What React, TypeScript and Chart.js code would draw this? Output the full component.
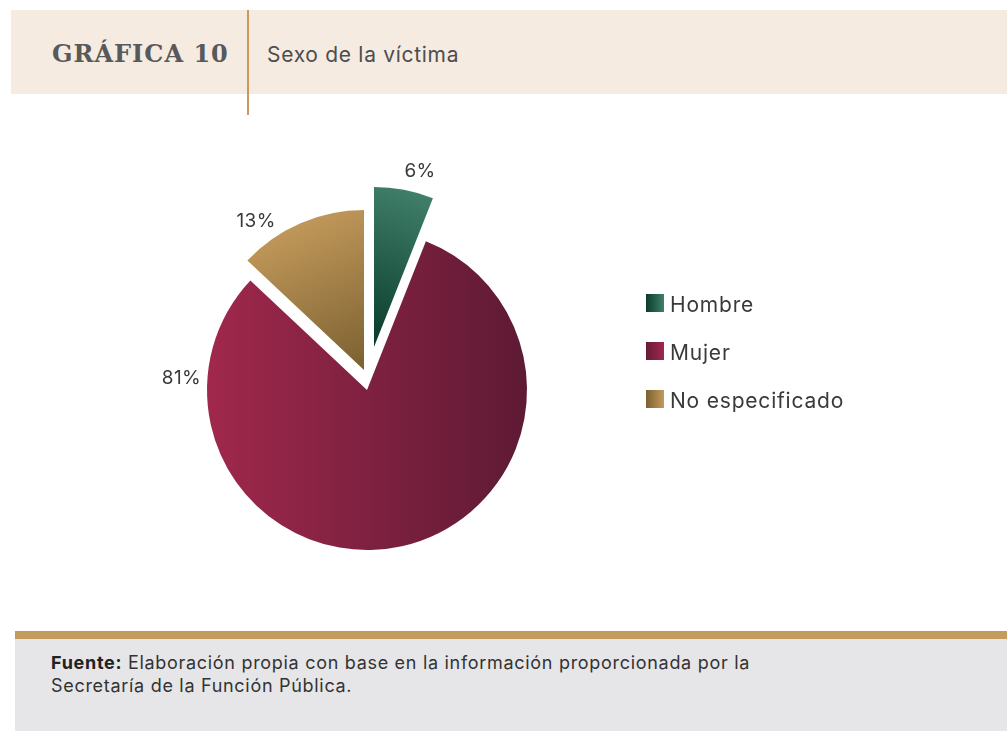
import React, { useEffect, useRef } from "react";
import { Chart, registerables } from "chart.js";

Chart.register(...registerables);

// ---- data ----
const categories = ["Hombre", "Mujer", "No especificado"];
const shares = [6, 81, 13];
const valueLabels = ["6%", "81%", "13%"];

const TITLE = "GRÁFICA 10";
const SUBTITLE = "Sexo de la víctima";
const SOURCE_BOLD = "Fuente:";
const SOURCE_LINE1 = " Elaboración propia con base en la información proporcionada por la";
const SOURCE_LINE2 = "Secretaría de la Función Pública.";

// ---- style ----
const FONT = "Inter, 'Open Sans', sans-serif";
const TEXT_COLOR = "#3a3a3a";
const RADIUS = 160;
// explode translation of each slice (pixels, dx / dy)
const explodeShift: [number, number][] = [
  [7, -43],
  [0, 0],
  [-3, -20],
];
// label anchor: [angle clockwise from top in degrees, distance from centre]
const labelAnchors: [number, number][] = [
  [13.6, 225],
  [-86.3, 186],
  [-33.3, 202],
];

function sliceFill(chart: Chart, i: number, forLegend = false, lx = 0, ly = 0) {
  const c = chart.ctx;
  const a = chart.chartArea;
  if (!a) return "#888";
  const cx = (a.left + a.right) / 2;
  const cy = (a.top + a.bottom) / 2;
  let g: CanvasGradient;
  if (forLegend) {
    g = c.createLinearGradient(lx, ly, lx + 18, ly);
    if (i === 0) { g.addColorStop(0, "#0a3a2c"); g.addColorStop(1, "#41806a"); }
    else if (i === 1) { g.addColorStop(0, "#661a38"); g.addColorStop(1, "#a0284c"); }
    else { g.addColorStop(0, "#7a6030"); g.addColorStop(1, "#c49a5c"); }
    return g;
  }
  if (i === 0) {
    g = c.createLinearGradient(cx + 64, cy - 195, cx + 7, cy - 43);
    g.addColorStop(0, "#41806a");
    g.addColorStop(1, "#083a2b");
  } else if (i === 1) {
    g = c.createLinearGradient(cx - RADIUS, cy, cx + RADIUS, cy);
    g.addColorStop(0, "#a0284c");
    g.addColorStop(1, "#5e1a34");
  } else {
    g = c.createLinearGradient(cx - 70, cy - 175, cx, cy - 20);
    g.addColorStop(0, "#c49a5c");
    g.addColorStop(1, "#7a6030");
  }
  return g;
}

const explodePlugin = {
  id: "explodeSlices",
  afterDatasetUpdate(chart: Chart, args: any) {
    const meta = chart.getDatasetMeta(args.index);
    meta.data.forEach((arc: any, i: number) => {
      const [dx, dy] = explodeShift[i] || [0, 0];
      arc.x += dx;
      arc.y += dy;
    });
  },
};

const labelPlugin = {
  id: "sliceLabels",
  afterDatasetsDraw(chart: Chart) {
    const a = chart.chartArea;
    const cx = (a.left + a.right) / 2;
    const cy = (a.top + a.bottom) / 2;
    const c = chart.ctx as any;
    c.save();
    c.font = `400 19px ${FONT}`;
    c.letterSpacing = "0.3px";
    c.fillStyle = TEXT_COLOR;
    c.textAlign = "center";
    c.textBaseline = "middle";
    valueLabels.forEach((t, i) => {
      const [deg, d] = labelAnchors[i];
      const r = (deg * Math.PI) / 180;
      c.fillText(t, cx + Math.sin(r) * d, cy - Math.cos(r) * d);
    });
    c.restore();
  },
};

const legendPlugin = {
  id: "customLegend",
  afterDraw(chart: Chart) {
    const c = chart.ctx as any;
    c.save();
    c.font = `400 21px ${FONT}`;
    c.letterSpacing = "0.8px";
    c.textBaseline = "middle";
    c.textAlign = "left";
    categories.forEach((name, i) => {
      const x = 646;
      const y = 294 + i * 48;
      c.fillStyle = sliceFill(chart, i, true, x, y);
      c.fillRect(x, y, 18, 18);
      c.fillStyle = TEXT_COLOR;
      c.fillText(name, 670, y + 12);
    });
    c.restore();
  },
};

function PieChart() {
  const ref = useRef<HTMLCanvasElement | null>(null);
  useEffect(() => {
    if (!ref.current) return;
    const chart = new Chart(ref.current, {
      type: "pie",
      data: {
        labels: categories,
        datasets: [
          {
            data: shares,
            backgroundColor: (ctx: any) => sliceFill(ctx.chart, ctx.dataIndex),
            borderWidth: 0,
            radius: RADIUS,
          } as any,
        ],
      },
      options: {
        responsive: false,
        animation: false,
        events: [],
        layout: { padding: { left: 167, right: 440, top: 190, bottom: 141 } },
        plugins: {
          legend: { display: false },
          tooltip: { enabled: false },
        },
      },
      plugins: [explodePlugin, labelPlugin, legendPlugin],
    });
    return () => chart.destroy();
  }, []);
  return (
    <canvas
      ref={ref}
      width={1007}
      height={731}
      style={{ position: "absolute", left: 0, top: 0, width: 1007, height: 731 }}
    />
  );
}

export default function App() {
  useEffect(() => {
    document.body.style.margin = "0";
  }, []);
  return (
    <div style={{ position: "relative", width: 1007, height: 731, background: "#fff", overflow: "hidden", fontFamily: FONT }}>
      <div style={{ position: "absolute", left: 11, top: 10, width: 996, height: 84, background: "#f5ebe1" }} />
      <div style={{ position: "absolute", left: 247, top: 10, width: 2, height: 105, background: "#c9995a" }} />
      <div
        style={{
          position: "absolute",
          left: 52,
          top: 39,
          fontFamily: "'DejaVu Serif', serif",
          fontWeight: 700,
          fontSize: 24,
          letterSpacing: 1,
          color: "#58595b",
          lineHeight: "30px",
          whiteSpace: "nowrap",
        }}
      >
        {TITLE}
      </div>
      <div
        style={{
          position: "absolute",
          left: 267,
          top: 42,
          fontSize: 21,
          letterSpacing: 0.7,
          color: "#4d4d4f",
          lineHeight: "26px",
          whiteSpace: "nowrap",
        }}
      >
        {SUBTITLE}
      </div>
      <PieChart />
      <div style={{ position: "absolute", left: 15, top: 631, width: 992, height: 8, background: "#c59a5e" }} />
      <div style={{ position: "absolute", left: 15, top: 639, width: 992, height: 92, background: "#e6e6e8" }} />
      <div
        style={{
          position: "absolute",
          left: 51,
          top: 651,
          fontSize: 18,
          letterSpacing: 0.7,
          lineHeight: "23px",
          color: "#333333",
          whiteSpace: "nowrap",
        }}
      >
        <b style={{ color: "#222" }}>{SOURCE_BOLD}</b>
        {SOURCE_LINE1}
        <br />
        {SOURCE_LINE2}
      </div>
    </div>
  );
}
